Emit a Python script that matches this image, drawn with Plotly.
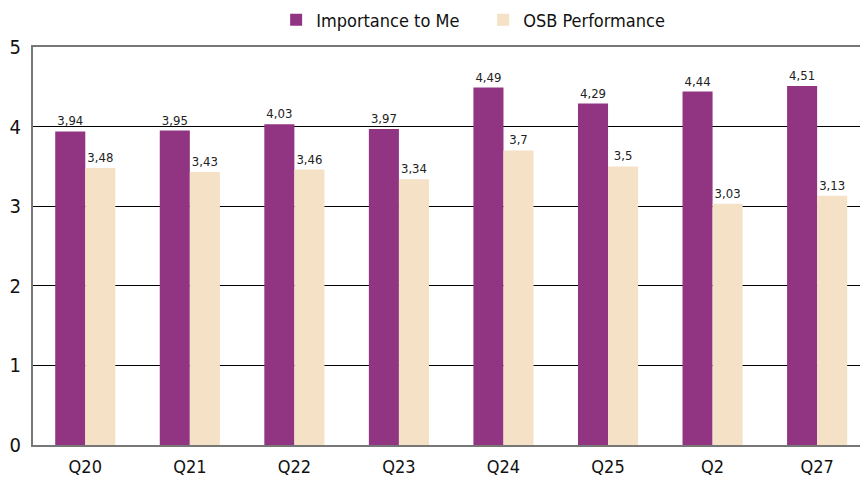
import plotly.graph_objects as go

categories = ["Q20", "Q21", "Q22", "Q23", "Q24", "Q25", "Q2", "Q27"]
importance = [3.94, 3.95, 4.03, 3.97, 4.49, 4.29, 4.44, 4.51]
performance = [3.48, 3.43, 3.46, 3.34, 3.70, 3.50, 3.03, 3.13]

def fmt(v):
    s = ("%.2f" % v).rstrip("0").rstrip(".")
    return s.replace(".", ",")

FONT = "DejaVu Sans Condensed, Liberation Sans Narrow, sans-serif"

fig = go.Figure()
fig.add_bar(name="Importance to Me", x=categories, y=importance,
            marker=dict(color="#913583", line=dict(width=0)),
            text=[fmt(v) for v in importance], textposition="outside",
            textfont=dict(size=13, color="#222"), cliponaxis=False)
fig.add_bar(name="OSB Performance", x=categories, y=performance,
            marker=dict(color="#F5E1C6", line=dict(width=0)),
            text=[fmt(v) for v in performance], textposition="outside",
            textfont=dict(size=13, color="#222"), cliponaxis=False)

fig.update_layout(
    width=860, height=484,
    margin=dict(l=33, r=0, t=47, b=39, autoexpand=False),
    paper_bgcolor="white", plot_bgcolor="white",
    barmode="group", bargap=0.425, bargroupgap=0,
    font=dict(family=FONT, size=16, color="#111"),
    legend=dict(orientation="h", x=0.294, xanchor="left", y=0.997, yanchor="top",
                yref="container", bgcolor="rgba(0,0,0,0)",
                font=dict(size=18, color="#111"), traceorder="normal",
                entrywidth=162, entrywidthmode="pixels"),
)
fig.update_xaxes(showline=True, linecolor="#777", linewidth=2, mirror=True,
                 ticks="", tickfont=dict(size=18), showgrid=False, automargin=False,
                 ticklabelstandoff=4, range=[-0.5, 7.41])
fig.update_yaxes(range=[0, 5], dtick=1, showgrid=True, gridcolor="#000", gridwidth=1,
                 showline=True, linecolor="#777", linewidth=2, ticks="",
                 tickfont=dict(size=20), zeroline=False, ticklabelstandoff=6,
                 automargin=False)

fig.write_html("out.html", config={"displayModeBar": False},
               post_script="document.body.style.margin='0';document.body.style.overflow='hidden';")
